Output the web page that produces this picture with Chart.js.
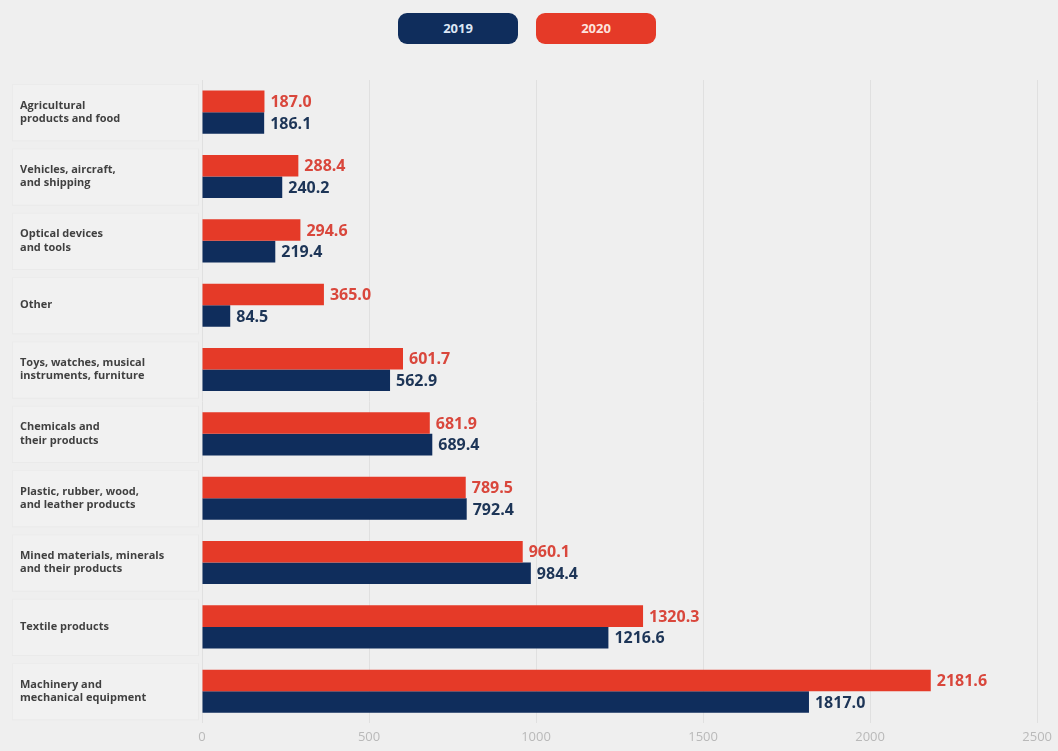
<!DOCTYPE html>
<html>
<head>
<meta charset="utf-8">
<script src="https://cdn.jsdelivr.net/npm/chart.js@4/dist/chart.umd.min.js"></script>
<style>
  html, body { margin: 0; padding: 0; background: #efefef; }
  #wrap { position: relative; width: 1058px; height: 751px; }
  #chart { position: absolute; left: 0; top: 0; }
  .pill {
    position: absolute; top: 13px; width: 120px; height: 31px; border-radius: 9px;
    font: 700 13px "Open Sans", sans-serif; text-align: center; line-height: 31px;
  }
  #p2019 { left: 398px; background: #0f2d5c; color: #dce7f5; }
  #p2020 { left: 536px; background: #e53a28; color: #fde3de; }
</style>
</head>
<body>
<div id="wrap">
  <canvas id="chart" width="1058" height="751"></canvas>
  <div class="pill" id="p2019">2019</div>
  <div class="pill" id="p2020">2020</div>
</div>
<script>
// Product groups, two lines each where the label wraps
const categories = [
  ["Agricultural", "products and food"],
  ["Vehicles, aircraft,", "and shipping"],
  ["Optical devices", "and tools"],
  ["Other"],
  ["Toys, watches, musical", "instruments, furniture"],
  ["Chemicals and", "their products"],
  ["Plastic, rubber, wood,", "and leather products"],
  ["Mined materials, minerals", "and their products"],
  ["Textile products"],
  ["Machinery and", "mechanical equipment"]
];
const values2020 = [187.0, 288.4, 294.6, 365.0, 601.7, 681.9, 789.5, 960.1, 1320.3, 2181.6];
const values2019 = [186.1, 240.2, 219.4, 84.5, 562.9, 689.4, 792.4, 984.4, 1216.6, 1817.0];
const xTicks = [0, 500, 1000, 1500, 2000, 2500];

const RED = '#e53a28', NAVY = '#0f2d5c';
const RED_TEXT = '#d9473c', NAVY_TEXT = '#1d3557';

// Faint panels behind each category label
const labelPanels = {
  id: 'labelPanels',
  beforeDatasetsDraw(chart) {
    const { ctx, scales: { y } } = chart;
    const step = y.getPixelForTick(1) - y.getPixelForTick(0);
    ctx.save();
    y.ticks.forEach((t, i) => {
      const cy = y.getPixelForTick(i);
      const top = cy - step / 2 + 4, h = step - 8;
      ctx.fillStyle = 'rgba(255,255,255,0.12)';
      ctx.fillRect(12, top, 186, h);
      ctx.strokeStyle = 'rgba(0,0,0,0.025)';
      ctx.lineWidth = 1;
      ctx.strokeRect(12.5, top + 0.5, 186, h);
    });
    ctx.restore();
  }
};

// Value text at the end of every bar
const barValues = {
  id: 'barValues',
  afterDatasetsDraw(chart) {
    const { ctx } = chart;
    ctx.save();
    ctx.font = '700 16px "Open Sans", sans-serif';
    ctx.textAlign = 'left';
    ctx.textBaseline = 'middle';
    chart.data.datasets.forEach((ds, di) => {
      const meta = chart.getDatasetMeta(di);
      ctx.fillStyle = ds.labelColor;
      meta.data.forEach((bar, i) => {
        ctx.fillText(ds.data[i].toFixed(1), bar.x + 6, bar.y + 1);
      });
    });
    ctx.restore();
  }
};

new Chart(document.getElementById('chart'), {
  type: 'bar',
  data: {
    labels: categories,
    datasets: [
      { label: '2020', data: values2020, backgroundColor: RED, labelColor: RED_TEXT,
        categoryPercentage: 0.67, barPercentage: 1.0 },
      { label: '2019', data: values2019, backgroundColor: NAVY, labelColor: NAVY_TEXT,
        categoryPercentage: 0.67, barPercentage: 1.0 }
    ]
  },
  options: {
    indexAxis: 'y',
    responsive: false,
    animation: false,
    layout: { padding: { top: 80, right: 20, bottom: 0, left: 20 } },
    plugins: { legend: { display: false }, tooltip: { enabled: false } },
    scales: {
      x: {
        min: 0, max: 2500,
        afterBuildTicks(scale) { scale.ticks = xTicks.map(v => ({ value: v })); },
        grid: { color: '#e0e0e0', drawTicks: false },
        border: { display: false },
        ticks: {
          color: '#b9b9b9', padding: 6,
          font: { family: '"Open Sans", sans-serif', size: 13 },
          callback: v => String(v)
        }
      },
      y: {
        grid: { display: false },
        border: { display: false },
        afterFit(scale) { scale.width = 182; },
        ticks: {
          crossAlign: 'far',
          color: '#262626',
          font: { family: '"Open Sans", sans-serif', size: 11, weight: '700', lineHeight: 1.2 }
        }
      }
    }
  },
  plugins: [labelPanels, barValues]
});
</script>
</body>
</html>
